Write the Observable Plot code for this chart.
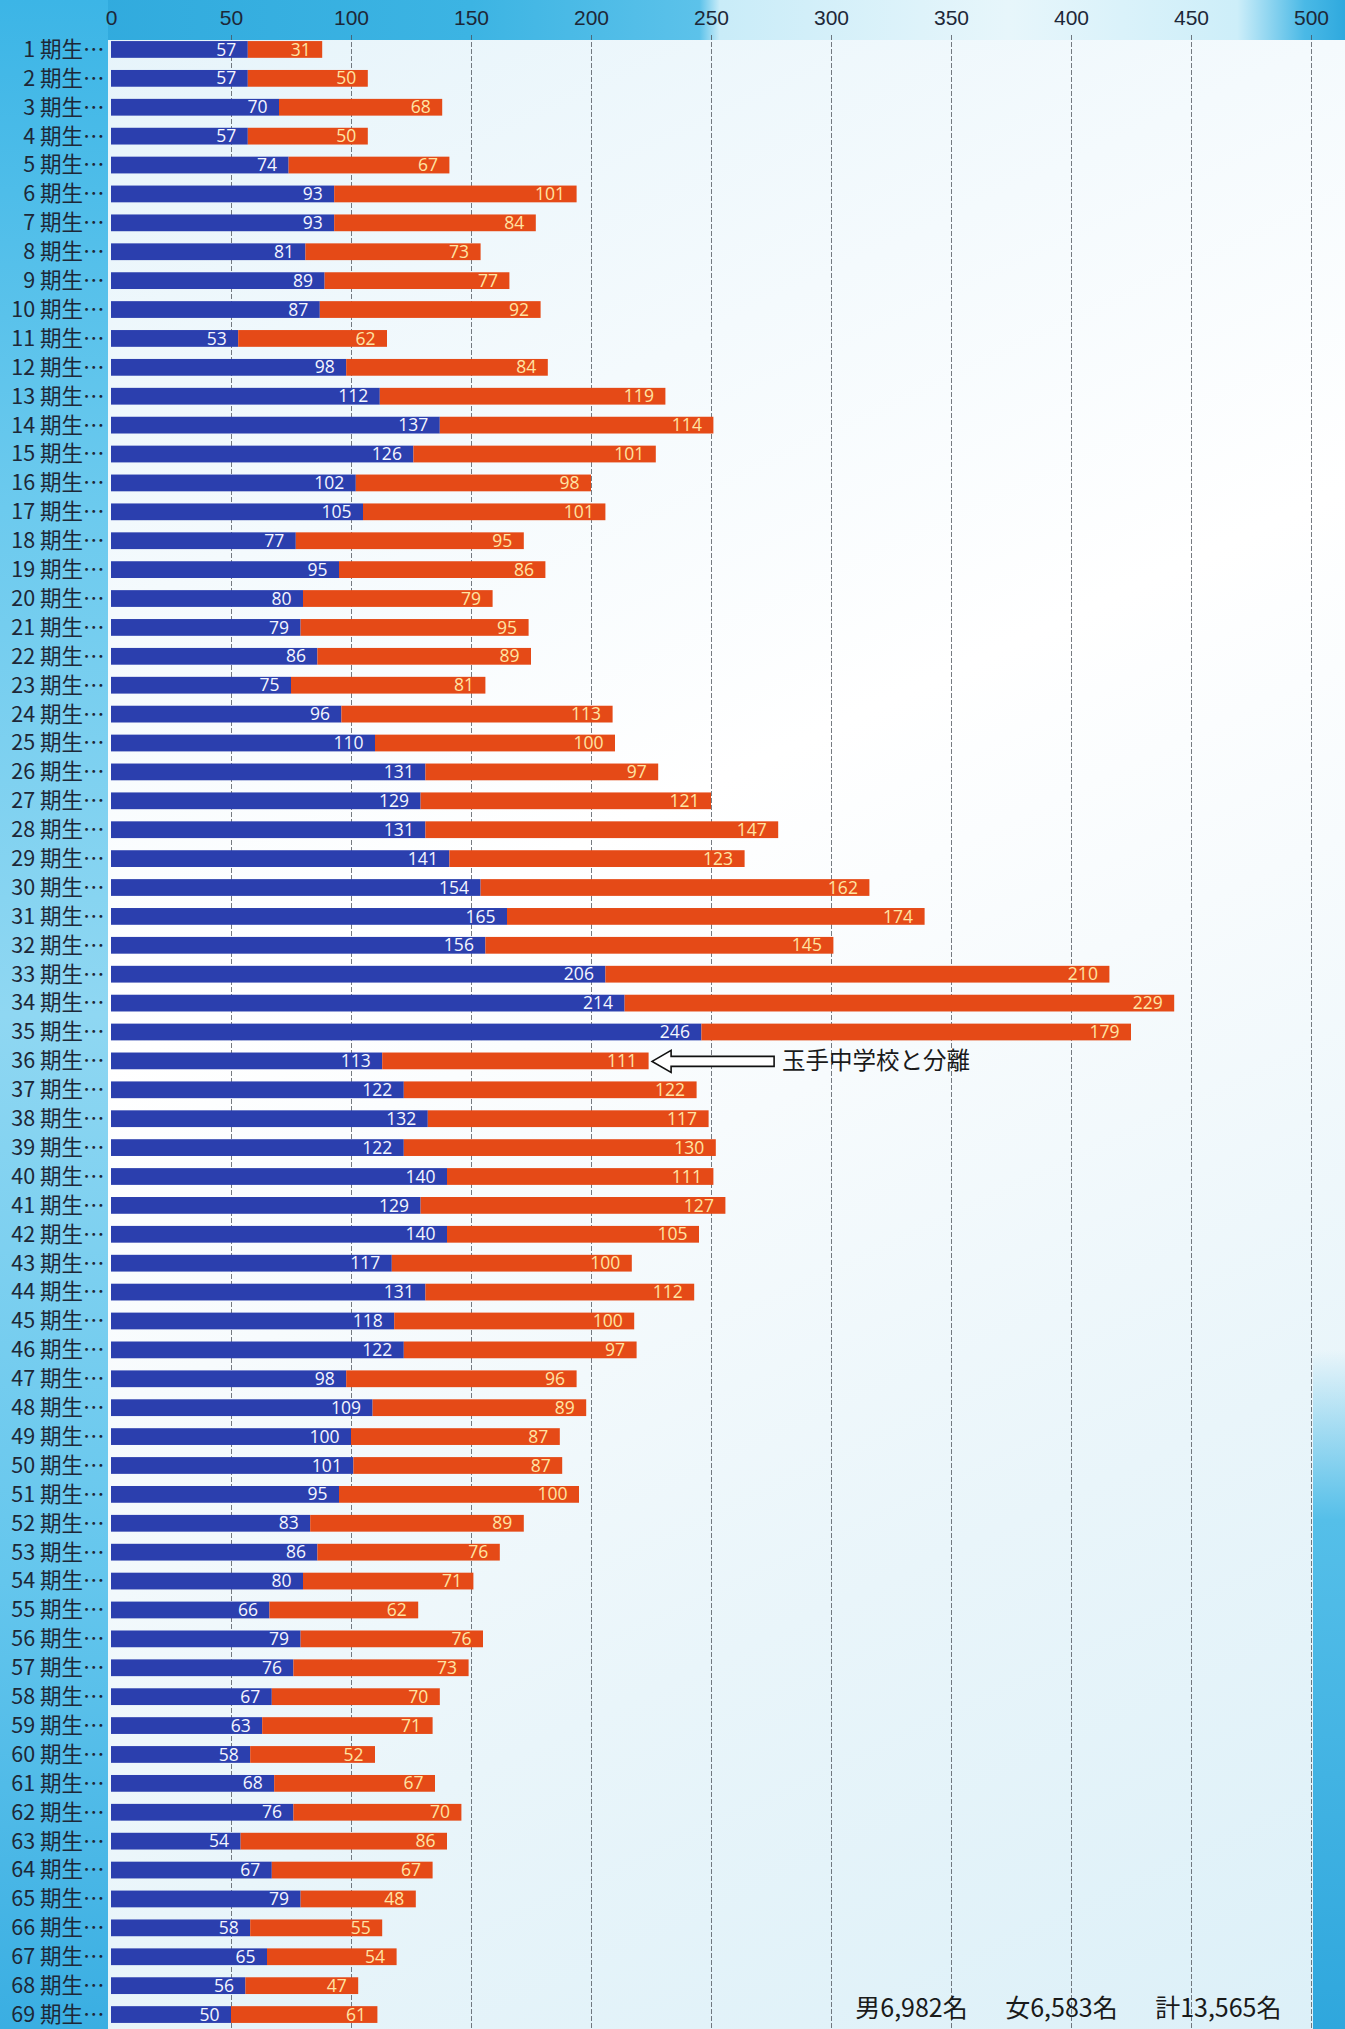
<!DOCTYPE html>
<html>
<head>
<meta charset="utf-8">
<script src="https://cdn.jsdelivr.net/npm/d3@7"></script>
<script src="https://cdn.jsdelivr.net/npm/@observablehq/plot@0.6"></script>
<style>
html, body { margin: 0; padding: 0; }
body { width: 1345px; height: 2029px; overflow: hidden; }
#page {
  position: relative; width: 1345px; height: 2029px; overflow: hidden;
  background: linear-gradient(155deg, #e4f3fa 0%, #f4fafd 25%, #ffffff 42%, #f7fbfd 55%, #e9f5fa 75%, #dcf0f8 100%);
}
.bg { position: absolute; }
#topband {
  left: 0; top: 0; width: 1345px; height: 40px;
  background: linear-gradient(90deg, #2ea8dc 0%, #3cb4e3 35%, #5cc2ea 52%, #c9ecf8 53.5%, #e7f6fb 75%, #cdeef9 92%, #4ab9e6 97%, #2fa9de 100%);
}
#leftcol {
  left: 0; top: 0; width: 108px; height: 2029px;
  background: linear-gradient(180deg, #3cb5e6 0%, #6ccaee 25%, #8fd7f2 50%, #64c6ed 78%, #3aaee2 100%);
}
#rightcol {
  right: 0; top: 1350px; width: 32px; height: 679px;
  background: linear-gradient(180deg, rgba(80,190,235,0) 0%, #55bfe9 25%, #2fa7dd 100%);
}
#chart { position: absolute; left: 0; top: 0; }
</style>
</head>
<body>
<div id="page">
  <div class="bg" id="topband"></div>
  <div class="bg" id="leftcol"></div>
  <div class="bg" id="rightcol"></div>
  <div id="chart"></div>
</div>
<script>
// ---- data ----
const cohorts = [1,2,3,4,5,6,7,8,9,10,11,12,13,14,15,16,17,18,19,20,
  21,22,23,24,25,26,27,28,29,30,31,32,33,34,35,36,37,38,39,40,
  41,42,43,44,45,46,47,48,49,50,51,52,53,54,55,56,57,58,59,60,
  61,62,63,64,65,66,67,68,69];
const male = [57,57,70,57,74,93,93,81,89,87,
  53,98,112,137,126,102,105,77,95,80,
  79,86,75,96,110,131,129,131,141,154,
  165,156,206,214,246,113,122,132,122,140,
  129,140,117,131,118,122,98,109,100,101,
  95,83,86,80,66,79,76,67,63,58,
  68,76,54,67,79,58,65,56,50];
const female = [31,50,68,50,67,101,84,73,77,92,
  62,84,119,114,101,98,101,95,86,79,
  95,89,81,113,100,97,121,147,123,162,
  174,145,210,229,179,111,122,117,130,111,
  127,105,100,112,100,97,96,89,87,87,
  100,89,76,71,62,76,73,70,71,52,
  67,70,86,67,48,55,54,47,61];
const xTicks = [0,50,100,150,200,250,300,350,400,450,500];
const noteCohort = 36;
const noteText = "玉手中学校と分離";

// ---- derived table ----
const rows = cohorts.map((c, i) => ({cohort: c, male: male[i], female: female[i], total: male[i] + female[i]}));
const fmt = d3.format(",");
const gap = "\u3000\u2002";
const totalsText = `男${fmt(d3.sum(male))}名${gap}女${fmt(d3.sum(female))}名${gap}計${fmt(d3.sum(male) + d3.sum(female))}名`;
const noteRow = rows.filter(d => d.cohort === noteCohort);

const BLUE = "#2b3fae";
const ORANGE = "#e54a17";
const JP = "'Noto Sans CJK JP', 'Noto Sans', sans-serif";

// hollow left-pointing block arrow, tip at the anchor point
const arrowSymbol = {
  draw(ctx) {
    const L = 122, hl = 19, hh = 11, sh = 5;
    ctx.moveTo(0, 0);
    ctx.lineTo(hl, -hh);
    ctx.lineTo(hl, -sh);
    ctx.lineTo(L, -sh);
    ctx.lineTo(L, sh);
    ctx.lineTo(hl, sh);
    ctx.lineTo(hl, hh);
    ctx.closePath();
  }
};

const chart = Plot.plot({
  width: 1345,
  height: 2029,
  marginLeft: 111,
  marginRight: 34,
  marginTop: 35,
  marginBottom: 0,
  style: {background: "transparent", overflow: "visible"},
  x: {domain: [0, 500], label: null},
  y: {domain: cohorts, paddingInner: 0.42, paddingOuter: 0.21, label: null},
  marks: [
    Plot.gridX(xTicks.filter(t => t > 0), {stroke: "#4a4f57", strokeOpacity: 0.75, strokeWidth: 1, strokeDasharray: "5,2"}),
    Plot.axisX(xTicks, {anchor: "top", tickSize: 0, tickPadding: 11, fontSize: 21, fill: "#1d2838",
      fontFamily: "'Liberation Sans', Arial, sans-serif", label: null}),
    Plot.axisY({tickSize: 0, tickPadding: 7, fontSize: 21.5, fill: "#1d2838", fontFamily: JP,
      tickFormat: d => `${d} 期生…`, label: null}),
    Plot.barX(rows, {x1: 0, x2: "male", y: "cohort", fill: BLUE}),
    Plot.barX(rows, {x1: "male", x2: "total", y: "cohort", fill: ORANGE}),
    Plot.text(rows, {x: "male", y: "cohort", text: d => String(d.male), textAnchor: "end", dx: -12,
      fill: "#f4f6ff", fontSize: 17.5, fontFamily: "'Open Sans', sans-serif"}),
    Plot.text(rows, {x: "total", y: "cohort", text: d => String(d.female), textAnchor: "end", dx: -12,
      fill: "#ffe4a3", fontSize: 17.5, fontFamily: "'Open Sans', sans-serif"}),
    Plot.dot(noteRow, {x: "total", y: "cohort", symbol: arrowSymbol, dx: 3, fill: "white", stroke: "#111", strokeWidth: 1.6}),
    Plot.text(noteRow, {x: "total", y: "cohort", text: () => noteText, textAnchor: "start", dx: 133,
      fill: "#1a1a1a", fontSize: 23.5, fontFamily: JP}),
    Plot.text([totalsText], {frameAnchor: "bottom-right", text: d => d, textAnchor: "end", lineAnchor: "middle",
      dx: -30, dy: -21, fill: "#1a1a1a", fontSize: 25, fontFamily: JP})
  ]
});
document.getElementById("chart").appendChild(chart);
</script>
</body>
</html>
